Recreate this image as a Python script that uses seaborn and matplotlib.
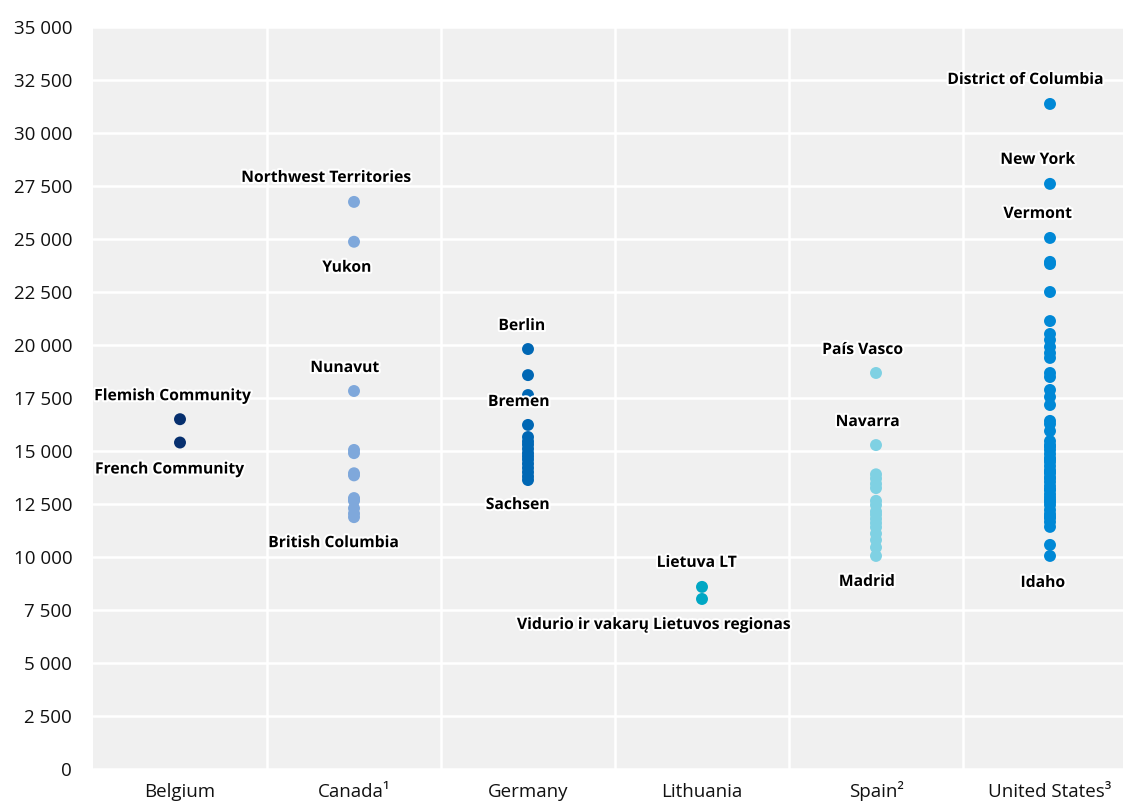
import pandas as pd
import matplotlib.pyplot as plt
import matplotlib.patheffects as pe
from matplotlib.ticker import FuncFormatter, MultipleLocator
import seaborn as sns

# categories (x axis)
countries = ["Belgium", "Canada¹", "Germany", "Lithuania", "Spain²", "United States³"]

# values per region
belgium = [16500, 15400]
canada = [26750, 24870, 17830, 15050, 14900, 13950, 13850, 12780, 12700, 12650, 12300, 12050, 11880]
germany = [19810, 18580, 17640, 16230, 15660, 15450, 15300, 15100, 14900, 14750,
           14600, 14400, 14200, 14000, 13800, 13630]
lithuania = [8590, 8020]
spain = [18680, 15280, 13900, 13700, 13450, 13250, 12650, 12450, 12150, 12000,
         11800, 11600, 11400, 11100, 10800, 10450, 10050]
usa = [31370, 27600, 25050, 23920, 23820, 22500, 21130, 20520, 20240, 19910,
       19620, 19390, 18680, 18490, 17880, 17550, 17170, 16420, 16270, 15940,
       15470, 15280, 15200, 15050, 14860, 14670, 14600, 14480, 14290, 14100,
       14000, 13960, 13770, 13700, 13540, 13350, 13200, 13160, 12970, 12830,
       12700, 12590, 12450, 12220, 12030, 11900, 11840, 11650, 11420, 10570, 10050]

colors = ["#062f6e", "#7fa8db", "#0067b4", "#00a7c4", "#7fd1e3", "#0088d6"]

# labelled regions: (country index, region, value, label dx px, label dy px)
labels = [
    (0, "Flemish Community", 16500, -7, 23),
    (0, "French Community", 15400, -10, -27),
    (1, "Northwest Territories", 26750, -27, 24),
    (1, "Yukon", 24870, -7, -26),
    (1, "Nunavut", 17830, -9, 23),
    (1, "British Columbia", 11880, -20, -26),
    (2, "Berlin", 19810, -6, 23),
    (2, "Bremen", 17640, -9, -7),
    (2, "Sachsen", 13630, -10, -25),
    (3, "Lietuva LT", 8590, -5, 24),
    (3, "Vidurio ir vakarų Lietuvos regionas", 8020, -47, -26),
    (4, "País Vasco", 18680, -13, 23),
    (4, "Navarra", 15280, -8, 23),
    (4, "Madrid", 10050, -9, -26),
    (5, "District of Columbia", 31370, -24, 24),
    (5, "New York", 27600, -12, 24),
    (5, "Vermont", 25050, -12, 24),
    (5, "Idaho", 10050, -7, -27),
]

series = [belgium, canada, germany, lithuania, spain, usa]
df = pd.DataFrame({
    "country": [c for c, vals in zip(countries, series) for _ in vals],
    "value": [v for vals in series for v in vals],
})

sns.set_theme(style="darkgrid")
plt.rcParams["font.family"] = ["Open Sans", "DejaVu Sans"]

fig = plt.figure(figsize=(11.23, 8.01), dpi=100)
ax = fig.add_axes([93 / 1123, 32 / 801, 1044 / 1123, 742 / 801])
ax.set_facecolor("#f0f0f0")

sns.stripplot(data=df, x="country", y="value", hue="country", order=countries,
              hue_order=countries, palette=colors, jitter=False, size=8.6,
              linewidth=0, legend=False, ax=ax, zorder=3)

for idx, name, val, dx, dy in labels:
    ax.annotate(name, xy=(idx, val), xytext=(dx, dy), textcoords="offset pixels",
                ha="center", va="center", fontsize=11.3, fontweight="bold",
                color="black", zorder=4,
                path_effects=[pe.withStroke(linewidth=3, foreground="white")])

ax.set_xlim(-0.5, 5.5)
ax.set_ylim(0, 35000)
ax.yaxis.set_major_locator(MultipleLocator(2500))
ax.yaxis.set_major_formatter(FuncFormatter(lambda v, p: f"{int(v):,}".replace(",", " ")))
ax.set_xticks(range(len(countries)))
ax.set_xticks([i + 0.5 for i in range(len(countries) - 1)], minor=True)

ax.grid(False)
ax.grid(axis="y", which="major", color="white", linewidth=1.8)
ax.grid(axis="x", which="minor", color="white", linewidth=1.8)
ax.set_axisbelow(True)
for s in ax.spines.values():
    s.set_visible(False)

ax.tick_params(axis="both", which="both", length=0, labelsize=13.5, colors="#111111")
ax.tick_params(axis="y", pad=15)
for t in ax.get_xticklabels():
    t.set_verticalalignment("baseline")
ax.tick_params(axis="x", pad=20)
ax.set_xlabel("")
ax.set_ylabel("")

fig.savefig("out.png", dpi=100, facecolor="white")
